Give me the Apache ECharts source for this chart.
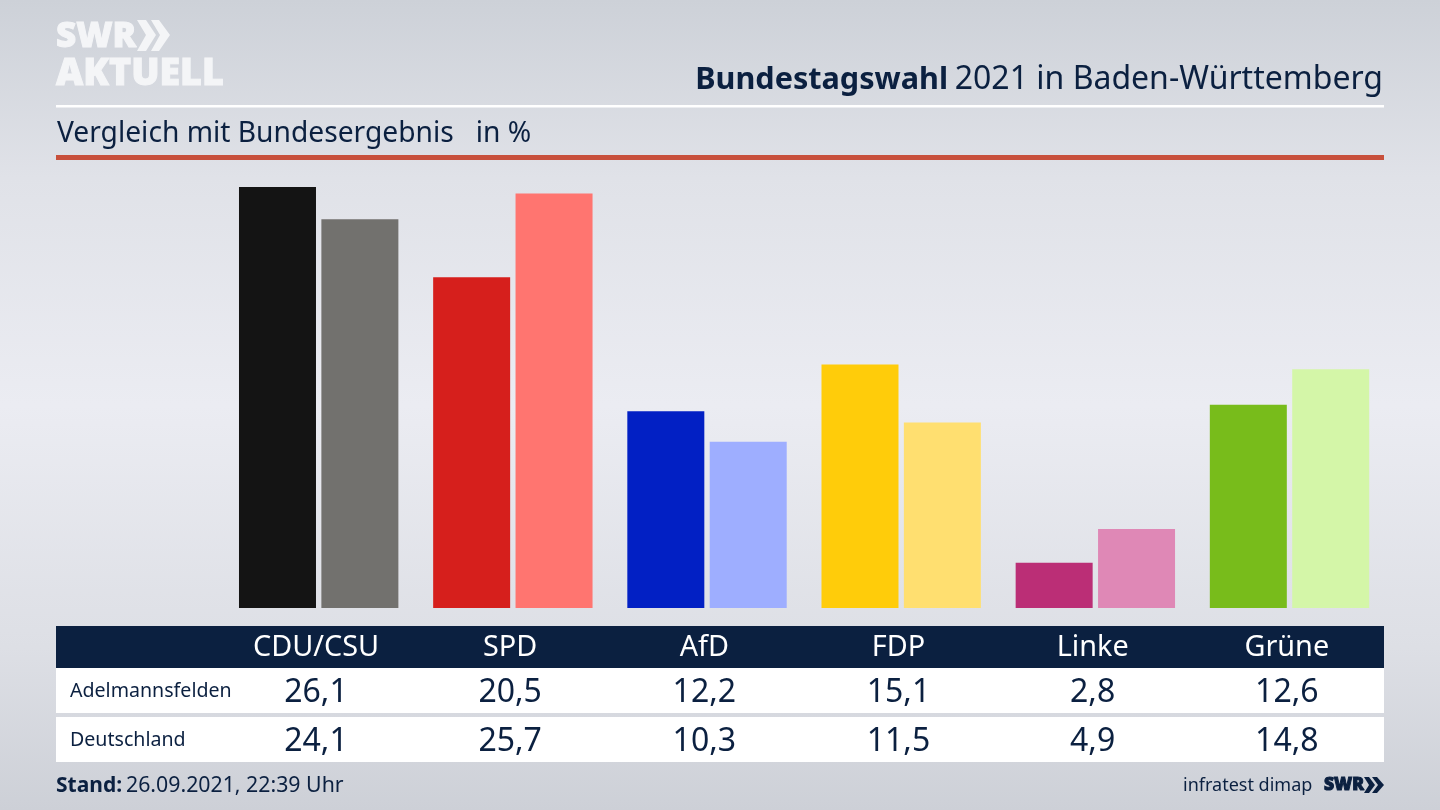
<!DOCTYPE html>
<html>
<head>
<meta charset="utf-8">
<title>Bundestagswahl 2021 in Baden-Württemberg</title>
<style>
html,body{margin:0;padding:0;width:1440px;height:810px;overflow:hidden}
#main{width:1440px;height:810px}
</style>
<script src="https://cdn.jsdelivr.net/npm/echarts@6/dist/echarts.min.js"></script>
</head>
<body>
<div id="main"></div>
<script>
var parties = ['CDU/CSU','SPD','AfD','FDP','Linke','Grüne'];
var rowNames = ['Adelmannsfelden','Deutschland'];
var adelmannsfelden = [26.1,20.5,12.2,15.1,2.8,12.6];
var deutschland = [24.1,25.7,10.3,11.5,4.9,14.8];
var colorsLocal = ['#141414','#d61f1c','#0220c4','#ffcc0a','#bb2e76','#78bc1b'];
var colorsBund = ['#72716e','#ff7570','#9eaeff','#ffdf70','#df88b6','#d4f6a8'];

var navy = '#0b2040';
var font = '"Noto Sans"';

function de(v){ return v.toFixed(1).replace('.',','); }
function colored(vals,cols){
	return vals.map(function(v,i){ return {value:v,itemStyle:{color:cols[i]}}; });
}
function rect(x,y,w,h,fill){
	return {type:'rect',silent:true,z:-1,shape:{x:x,y:y,width:w,height:h},style:{fill:fill}};
}
function text(x,y,str,size,color,weight,align,family){
	return {type:'text',silent:true,x:x,y:y,style:{text:str,fontSize:size,fill:color,fontWeight:weight||'normal',
		fontFamily:family||font,align:align||'left',verticalAlign:'middle'}};
}
// logo lettering, thickened with a thin outline
function logoText(x,y,str,size,color){
	var t = text(x,y,str,size,color,'900','left','"Open Sans"');
	t.style.stroke = color;
	t.style.lineWidth = 1;
	return t;
}
// table row as an extra category axis below the label grid
function rowAxis(labels,offset,size){
	return {type:'category',gridIndex:1,position:'bottom',offset:offset,data:labels,
		axisLine:{show:false},axisTick:{show:false},
		axisLabel:{interval:0,margin:0,fontSize:size,color:navy,fontFamily:font,verticalAlign:'middle'}};
}

var headerAxis = rowAxis(parties,0,28.8);
headerAxis.axisLabel.color = '#fff';

var option = {
	animation:false,
	backgroundColor:{type:'linear',x:0,y:0,x2:0,y2:1,colorStops:[
		{offset:0,color:'#cdd1d8'},{offset:0.22,color:'#e0e2e8'},{offset:0.5,color:'#ebecf2'},{offset:0.8,color:'#dddfe5'},{offset:1,color:'#cdd0d7'}]},
	grid:[
		{left:221.6,top:172.5,width:1165,height:435.5},
		{left:218.9,top:648,width:1165,height:0}
	],
	xAxis:[
		{type:'category',gridIndex:0,data:parties,axisLine:{show:false},axisTick:{show:false},axisLabel:{show:false}},
		headerAxis,
		rowAxis(adelmannsfelden.map(de),45,32),
		rowAxis(deutschland.map(de),94,32)
	],
	yAxis:[
		{type:'value',gridIndex:0,min:0,max:27,show:false,splitLine:{show:false}},
		{type:'value',gridIndex:1,show:false,splitLine:{show:false}}
	],
	series:[
		{name:rowNames[0],type:'bar',barWidth:77,barGap:'7%',data:colored(adelmannsfelden,colorsLocal)},
		{name:rowNames[1],type:'bar',barWidth:77,barGap:'7%',data:colored(deutschland,colorsBund)}
	],
	graphic:[
		rect(56,105,1328,2.5,'#ffffff'),
		rect(56,155,1328,5,'#c8503c'),
		rect(56,626,1328,42,navy),
		rect(56,668,1328,45,'#ffffff'),
		rect(56,717,1328,45,'#ffffff'),
		logoText(56,37,'SWR',35,'#f4f5f7'),
		logoText(56,74,'AKTUELL',37.5,'#f4f5f7'),
		{type:'polygon',silent:true,shape:{points:[[137,20],[146,20],[156,35],[146,51],[137,51],[146,35]]},style:{fill:'#f4f5f7'}},
		{type:'polygon',silent:true,shape:{points:[[151,20],[159,20],[170,35],[159,51],[151,51],[160,35]]},style:{fill:'#f4f5f7'}},
		{type:'text',silent:true,x:1383,y:80,style:{rich:{b:{fontSize:30.6,fontWeight:'bold',fill:navy,fontFamily:font},n:{fontSize:32,fill:navy,fontFamily:font}},
			text:'{b|Bundestagswahl}  {n|2021 in Baden-Württemberg}',align:'right',verticalAlign:'middle'}},
		text(57,134,'Vergleich mit Bundesergebnis   in %',28.2,navy),
		text(70,691,rowNames[0],19.6,navy),
		text(70,740,rowNames[1],19.6,navy),
		text(56,786,'Stand:',21,navy,'bold'),
		text(126,786,'26.09.2021, 22:39 Uhr',21.3,navy),
		text(1183,786,'infratest dimap',18,navy),
		logoText(1324,785,'SWR',17.5,navy),
		{type:'polygon',silent:true,shape:{points:[[1364,777],[1369,777],[1375,785],[1369,793],[1364,793],[1369,785]]},style:{fill:navy}},
		{type:'polygon',silent:true,shape:{points:[[1372,777],[1377,777],[1384,785],[1377,793],[1372,793],[1378,785]]},style:{fill:navy}}
	]
};
var chart = echarts.init(document.getElementById('main'));
chart.setOption(option);
</script>
</body>
</html>
